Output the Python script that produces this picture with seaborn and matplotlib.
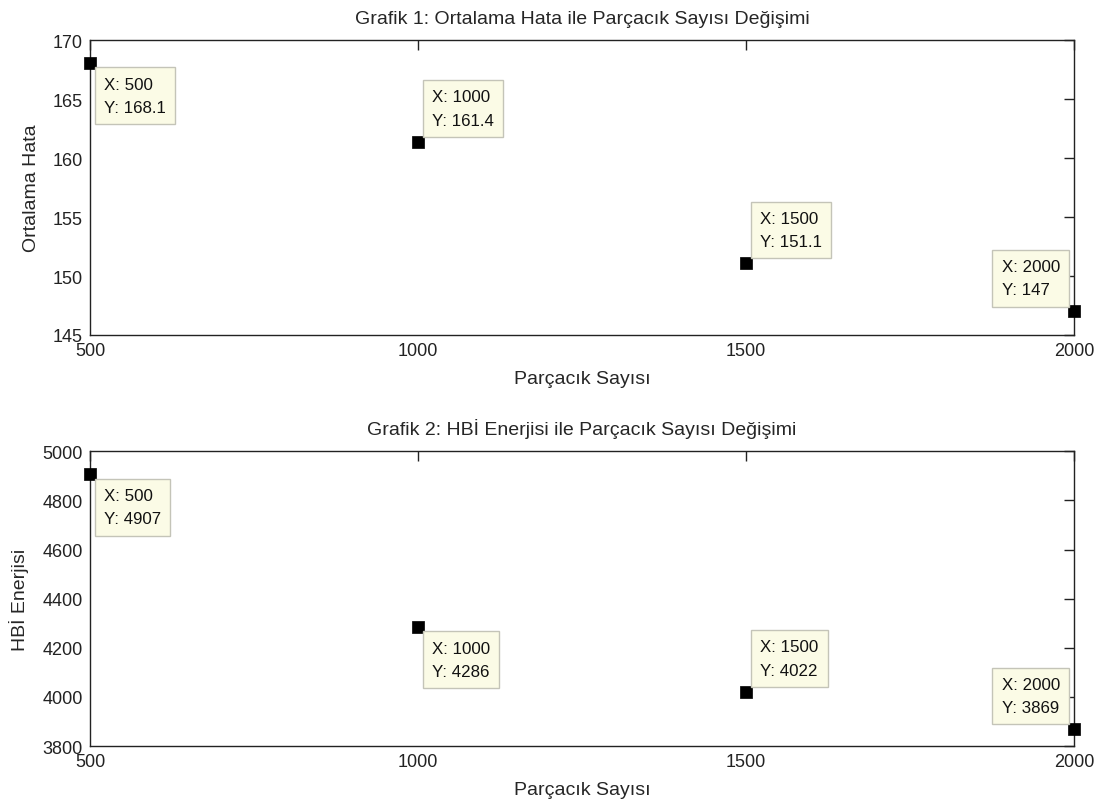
import matplotlib
matplotlib.use("Agg")
import matplotlib.pyplot as plt
import seaborn as sns
import pandas as pd

# Particle counts and measured results
particles = [500, 1000, 1500, 2000]
mean_error = [168.1, 161.4, 151.1, 147]
energy = [4907, 4286, 4022, 3869]

# Labels shown on the tips (as reported by the tool)
error_tips = ["168.1", "161.4", "151.1", "147"]
energy_tips = ["4907", "4286", "4022", "3869"]

# Placement of each data tip relative to its marker: (dx, dy) sign
error_tip_dirs = [(1, -1), (1, 1), (1, 1), (-1, 1)]
energy_tip_dirs = [(1, -1), (1, -1), (1, 1), (-1, 1)]

sns.set_style("white")
plt.rcParams["font.family"] = ["Liberation Sans", "DejaVu Sans"]
plt.rcParams["axes.edgecolor"] = "#222222"
plt.rcParams["axes.linewidth"] = 1.0

FS_TICK = 13
FS_TEXT = 14
FS_TIP = 12.2

fig = plt.figure(figsize=(10.97, 8.03), dpi=100)
ax1 = fig.add_axes([0.082, 0.5816, 0.897, 0.367])
ax2 = fig.add_axes([0.082, 0.0697, 0.897, 0.367])

df1 = pd.DataFrame({"x": particles, "y": mean_error})
df2 = pd.DataFrame({"x": particles, "y": energy})


def draw(ax, df, tips, dirs, title, ylabel, ylim, yticks):
    sns.scatterplot(data=df, x="x", y="y", ax=ax, marker="s", s=80,
                    color="black", edgecolor="black", linewidth=0.5,
                    clip_on=False, zorder=5)
    ax.set_xlim(500, 2000)
    ax.set_ylim(*ylim)
    ax.set_xticks(particles)
    ax.set_yticks(yticks)
    ax.tick_params(direction="in", top=True, right=True, length=7,
                   width=1, labelsize=FS_TICK, pad=5, colors="#222222")
    for s in ax.spines.values():
        s.set_visible(True)
    ax.set_title(title, fontsize=FS_TEXT, pad=12.5)
    ax.set_xlabel("Parçacık Sayısı", fontsize=FS_TEXT, labelpad=8)
    ax.set_ylabel(ylabel, fontsize=FS_TEXT, labelpad=9.5)
    for (x, y), lab, (dx, dy) in zip(df[["x", "y"]].values, tips, dirs):
        ax.annotate(f"X: {int(x)}\nY: {lab}", xy=(x, y),
                    xytext=(dx * 14, dy * 14), textcoords="offset pixels",
                    ha="left" if dx > 0 else "right",
                    va="top" if dy < 0 else "bottom",
                    multialignment="left",
                    fontsize=FS_TIP, linespacing=1.68, color="#111111",
                    bbox=dict(boxstyle="square,pad=0.55", fc="#fbfbe6",
                              ec="#c4c4b8", lw=1.0),
                    zorder=6, annotation_clip=False)


draw(ax1, df1, error_tips, error_tip_dirs,
     "Grafik 1: Ortalama Hata ile Parçacık Sayısı Değişimi",
     "Ortalama Hata", (145, 170), [145, 150, 155, 160, 165, 170])
draw(ax2, df2, energy_tips, energy_tip_dirs,
     "Grafik 2: HBİ Enerjisi ile Parçacık Sayısı Değişimi",
     "HBİ Enerjisi", (3800, 5000),
     [3800, 4000, 4200, 4400, 4600, 4800, 5000])

fig.savefig("out.png", dpi=100, facecolor="white")
